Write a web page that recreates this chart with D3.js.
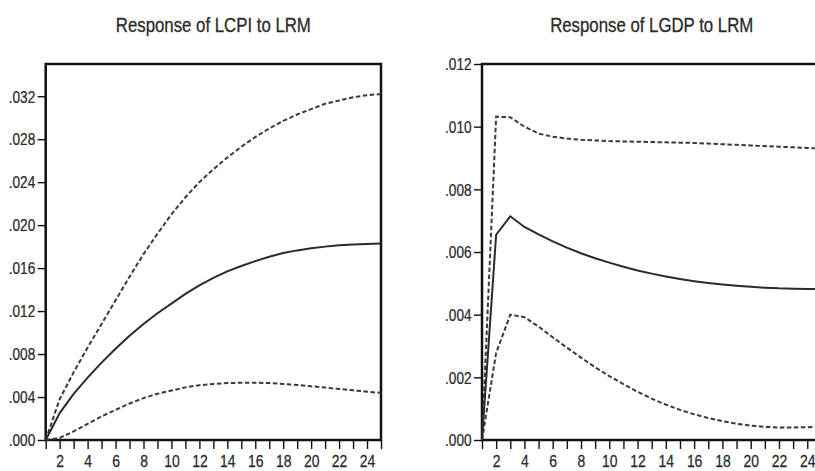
<!DOCTYPE html>
<html>
<head>
<meta charset="utf-8">
<script src="https://cdn.jsdelivr.net/npm/d3@7"></script>
<style>
  body { margin: 0; background: #fff; }
  svg { display: block; }
  .axis text { font-family: "Liberation Sans", Arial, sans-serif; fill: #2a2a2a; stroke: #2a2a2a; stroke-width: 0.25; }
  .axis .domain { display: none; }
  .axis line { stroke: #111; stroke-width: 1.4; }
  .title { font-family: "Liberation Sans", Arial, sans-serif; font-size: 21px; fill: #2a2a2a; stroke: #2a2a2a; stroke-width: 0.3; }
</style>
</head>
<body>
<div id="chart"></div>
<script>
// periods after the shock
var periods = [1, 2, 3, 4, 5, 6, 7, 8, 9, 10, 11, 12, 13, 14, 15, 16, 17, 18, 19, 20, 21, 22, 23, 24, 25];
var xTickLabels = [2, 4, 6, 8, 10, 12, 14, 16, 18, 20, 22, 24];

// Response of LCPI to LRM
var cpiResp  = [0, .0025, .0043, .0058, .0072, .0085, .0097, .0108, .0118, .0127, .0136, .0144, .0151,
                .0157, .0162, .01665, .01705, .0174, .01765, .01785, .0180, .01812, .0182, .01825, .01828];
var cpiUpper = [0, .0038, .0063, .0086, .0108, .0130, .0152, .0173, .0192, .0210, .0226, .0240, .0252,
                .0263, .0273, .0282, .0290, .0297, .0303, .0308, .0313, .0316, .0319, .0321, .0322];
var cpiLower = [0, .0002, .0008, .0015, .0022, .0028, .0034, .0039, .0043, .0046, .0049, .0051, .00522,
                .0053, .00533, .00533, .0053, .00522, .00512, .0050, .00488, .00475, .00462, .0045, .00438];
var cpiTicks = [0, .004, .008, .012, .016, .020, .024, .028, .032];

// Response of LGDP to LRM
var gdpResp  = [0, .00655, .00714, .00680, .00656, .00634, .00614, .00596, .00580, .00566, .00553, .00541, .00531,
                .00522, .00514, .00507, .00501, .00496, .00492, .00489, .00486, .00484, .00483, .00482, .00482];
var gdpUpper = [0, .01032, .01030, .01000, .00978, .00968, .00962, .00958, .00956, .00954, .00953, .00952, .00951,
                .00950, .00949, .00948, .00946, .00944, .00942, .00940, .00938, .00936, .00934, .00932, .00930];
var gdpLower = [0, .00278, .00400, .00392, .00362, .00328, .00295, .00263, .00232, .00204, .00178, .00154, .00132,
                .00113, .00096, .00082, .00070, .00060, .00052, .00046, .00042, .00040, .00040, .00041, .00043];
var gdpTicks = [0, .002, .004, .006, .008, .010, .012];

var W = 815, H = 471;

var svg = d3.select("#chart")
    .append("svg")
    .attr("width", W)
    .attr("height", H);

function fmt(v) {
    return d3.format(".3f")(v).replace(/^0/, "");
}

function draw_panel(opts) {
    var x = d3.scaleLinear()
        .domain([1, 25])
        .range([opts.left, opts.right]);
    var y = d3.scaleLinear()
        .domain([0, opts.ymax])
        .range([440, 64]);

    var g = svg.append("g");

    g.append("text")
        .attr("class", "title")
        .attr("transform", `translate(${(opts.left + opts.right) / 2}, 32) scale(0.8, 1)`)
        .attr("text-anchor", "middle")
        .text(opts.title);

    // y axis
    var yAxis = d3.axisLeft(y)
        .tickValues(opts.ticks)
        .tickFormat(fmt)
        .tickSize(8);
    var ya = g.append("g")
        .attr("class", "axis")
        .attr("transform", `translate(${opts.left}, 0)`)
        .call(yAxis);
    ya.selectAll("text")
        .attr("x", 0)
        .attr("dy", "0.36em")
        .style("font-size", "16px")
        .attr("transform", "translate(-10.5, 0) scale(0.85, 1)");

    // x axis, a tick at every period, labels on even ones
    var xAxis = d3.axisBottom(x)
        .tickValues(periods)
        .tickFormat(function(d) { return xTickLabels.indexOf(d) >= 0 ? d : ""; })
        .tickSize(9);
    var xa = g.append("g")
        .attr("class", "axis")
        .attr("transform", `translate(0, 440)`)
        .call(xAxis);
    xa.selectAll("text")
        .attr("x", 0)
        .attr("y", 27)
        .attr("dy", 0)
        .style("font-size", "17px")
        .attr("transform", "scale(0.82, 1)");

    // frame
    g.append("rect")
        .attr("x", opts.left)
        .attr("y", y(opts.ymax))
        .attr("width", opts.right - opts.left)
        .attr("height", y(0) - y(opts.ymax))
        .attr("fill", "none")
        .attr("stroke", "#111")
        .attr("stroke-width", 2.5);

    var valueline = d3.line()
        .x(function(d, i) { return x(periods[i]); })
        .y(function(d) { return y(d); });

    [opts.upper, opts.lower].forEach(function(band) {
        g.append("path")
            .datum(band)
            .attr("fill", "none")
            .attr("stroke", "#3a3a3a")
            .attr("stroke-width", 2)
            .attr("stroke-dasharray", "4.5,2.5")
            .attr("d", valueline);
    });
    g.append("path")
        .datum(opts.resp)
        .attr("fill", "none")
        .attr("stroke", "#2a2a2a")
        .attr("stroke-width", 2)
        .attr("d", valueline);
}

draw_panel({title: "Response of LCPI to LRM", left: 45.7, right: 381, ymax: 0.035,
            ticks: cpiTicks, resp: cpiResp, upper: cpiUpper, lower: cpiLower});
draw_panel({title: "Response of LGDP to LRM", left: 482, right: 821.4, ymax: 0.012,
            ticks: gdpTicks, resp: gdpResp, upper: gdpUpper, lower: gdpLower});
</script>
</body>
</html>
